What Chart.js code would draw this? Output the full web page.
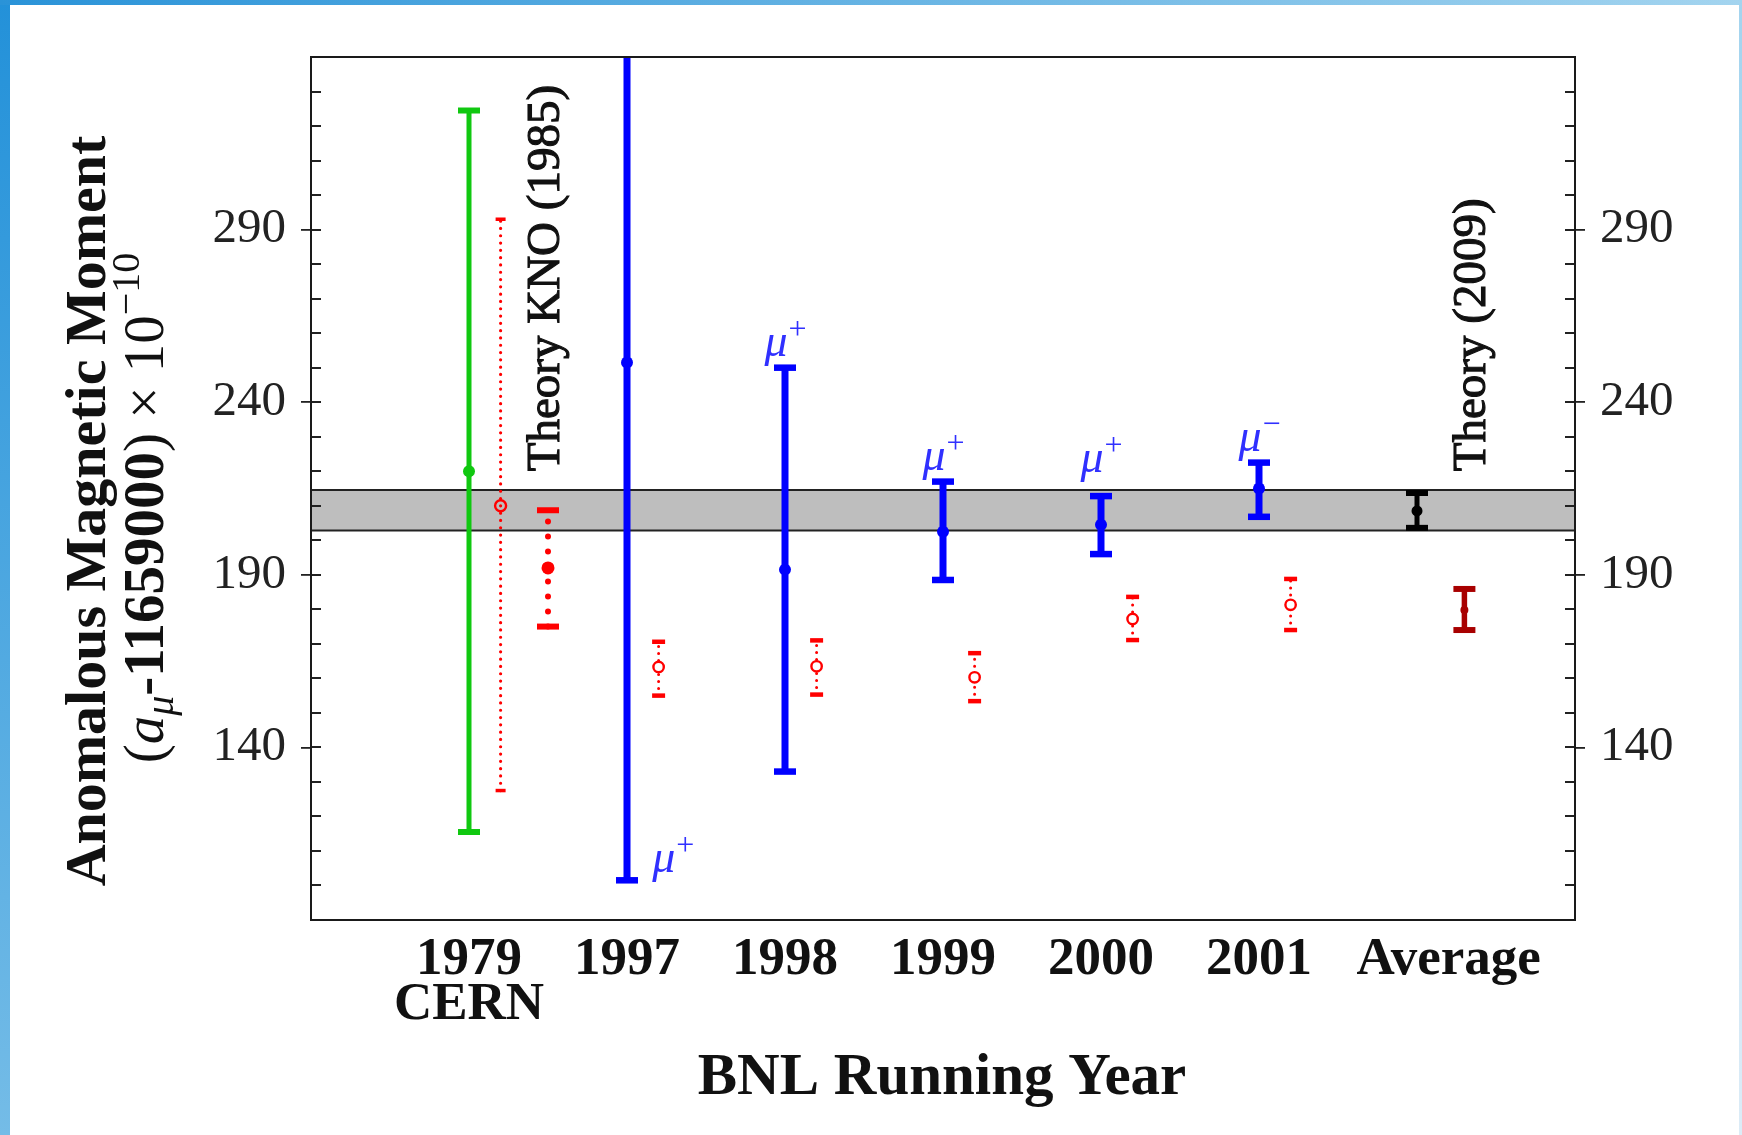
<!DOCTYPE html>
<html><head><meta charset="utf-8">
<script src="https://cdn.jsdelivr.net/npm/chart.js@4.4.0/dist/chart.umd.min.js"></script>
<style>
html,body{margin:0;padding:0;background:#fff;overflow:hidden;}
#wrap{position:relative;width:1742px;height:1135px;background:#fff;}
canvas{position:absolute;left:0;top:0;}
.fr{position:absolute;z-index:2;}
</style></head><body>
<div id="wrap">
<canvas id="c" width="1742" height="1135"></canvas>
<div class="fr" style="left:0;top:0;width:10px;height:1135px;background:linear-gradient(#2391d9,#74bce7)"></div>
<div class="fr" style="left:0;top:0;width:1742px;height:5px;background:linear-gradient(to right,#2a93d8,#a3d4ef)"></div>
<div class="fr" style="left:1739px;top:0;width:3px;height:1135px;background:linear-gradient(#a3d4ef,#dcecf7)"></div>
</div>
<script>
// ---------------- data (values in units of 1e-10, offset 11659000) ----------------
const categoryLabels = [['1979', 'CERN'], '1997', '1998', '1999', '2000', '2001', 'Average'];
const yTickValues = [140, 190, 240, 290];

// [low, value, high]
const cern1979 = [115.5, 220, 324.5];
const bnlLow   = [101.5, 133, 188.5, 196, 206.8];
const bnlValue = [251.5, 191.5, 202.5, 204.5, 215];
const bnlHigh  = [401.5, 250, 217, 212.8, 222.5];
const bnlCharge = ['+', '+', '+', '+', '\u2212'];
const worldAverage = [203.6, 208.5, 213.7];
const averageBand = [202.8, 214.6];

const theoryKNO1985 = [127.5, 210, 293];
const theoryKNO1985b = [175, 192, 208.7];
const theoryLow   = [155, 155.3, 153.4, 171.1, 174];
const theoryValue = [163.3, 163.5, 160.3, 177.2, 181.3];
const theoryHigh  = [170.6, 171, 167.3, 183.6, 188.8];
const theory2009 = [174, 179.8, 185.9];

// ---------------- layout constants ----------------
const OFF_THEORY = 0.2, OFF_KNO_B = 0.5, OFF_T2009 = 0.3, OFF_AVG_LABEL = 0.2;
const muLabelPos = [[1.29, 104], [2, 253.5], [3, 220.4], [4, 219.8], [5, 226]];
const theoryTextPos = [[0.49, 220, 'Theory KNO (1985)'], [6.35, 220, 'Theory (2009)']];
const SERIF = "'Liberation Serif', 'Times New Roman', serif";

const datasets = [];
// band (drawn behind)
datasets.push({data: [{x: -1, y: averageBand[0]}, {x: 7, y: averageBand[0]}], borderColor: '#222', borderWidth: 2,
  pointRadius: 0, order: 100, fill: false});
datasets.push({data: [{x: -1, y: averageBand[1]}, {x: 7, y: averageBand[1]}], borderColor: '#222', borderWidth: 2,
  pointRadius: 0, order: 100, fill: '-1', backgroundColor: '#bebebe'});

function errBar(x, trip, s) {
  datasets.push({
    data: [{x, y: trip[0]}, {x, y: trip[2]}],
    borderColor: s.color, borderWidth: s.lw, borderDash: s.dash || [], borderCapStyle: s.capStyle || 'butt',
    pointStyle: 'line', pointRadius: s.capW / 2, pointBorderWidth: s.capT,
    pointBorderColor: s.color, pointBackgroundColor: s.color, order: 1, fill: false
  });
  datasets.push({
    data: [{x, y: trip[1]}], showLine: false, pointStyle: 'circle', pointRadius: s.dotR,
    pointBackgroundColor: s.dotFill || s.color, pointBorderColor: s.color, pointBorderWidth: s.dotBW || 0, order: 0
  });
  if (s.innerDot) {
    datasets.push({data: [{x, y: trip[1]}], showLine: false, pointStyle: 'circle', pointRadius: s.innerDot,
      pointBackgroundColor: s.color, pointBorderWidth: 0, order: 0});
  }
}

errBar(0, cern1979, {color: '#10c810', lw: 5, capW: 22, capT: 6, dotR: 6});
errBar(OFF_THEORY, theoryKNO1985, {color: '#ff0000', lw: 3.2, dash: [0, 7.3], capStyle: 'round', capW: 10, capT: 3.5,
  dotR: 5.5, dotFill: 'rgba(0,0,0,0)', dotBW: 2.4});
errBar(OFF_KNO_B, theoryKNO1985b, {color: '#ff0000', lw: 6, dash: [0, 15], capStyle: 'round', capW: 22, capT: 6, dotR: 6.5});
for (let i = 0; i < bnlValue.length; i++) {
  errBar(i + 1, [bnlLow[i], bnlValue[i], bnlHigh[i]], {color: '#0000ff', lw: 7, capW: 22, capT: 6.5, dotR: 6});
  errBar(i + 1 + OFF_THEORY, [theoryLow[i], theoryValue[i], theoryHigh[i]],
    {color: '#ff0000', lw: 3, dash: [0, 7], capStyle: 'round', capW: 13, capT: 4.5, dotR: 5.2, dotFill: '#fff', dotBW: 2.4, innerDot: 2});
}
errBar(6, worldAverage, {color: '#000000', lw: 5, capW: 22, capT: 6, dotR: 5.5});
errBar(6 + OFF_T2009, theory2009, {color: '#a80000', lw: 5.5, capW: 22, capT: 6, dotR: 4});

const deco = {
  id: 'deco',
  afterDatasetsDraw(chart) {
    const {ctx, chartArea: a, scales} = chart;
    const ys = scales.y, xs = scales.x;
    ctx.save();
    // inward tick marks
    ctx.strokeStyle = '#222'; ctx.lineWidth = 1.8;
    for (let v = Math.ceil(ys.min / 10) * 10; v < ys.max; v += 10) {
      if (v <= ys.min) continue;
      const p = Math.round(ys.getPixelForValue(v));
      ctx.beginPath();
      ctx.moveTo(a.left, p); ctx.lineTo(a.left + 10, p);
      ctx.moveTo(a.right, p); ctx.lineTo(a.right - 10, p);
      ctx.stroke();
    }
    // frame
    ctx.lineWidth = 2; ctx.strokeStyle = '#1a1a1a';
    ctx.strokeRect(a.left, a.top, a.right - a.left, a.bottom - a.top);

    // mu labels
    ctx.fillStyle = '#3030ff';
    ctx.textBaseline = 'alphabetic';
    muLabelPos.forEach((p, i) => {
      const px = xs.getPixelForValue(p[0]), py = ys.getPixelForValue(p[1]);
      ctx.font = 'italic 46px ' + SERIF;
      const w1 = ctx.measureText('\u03bc').width;
      ctx.font = '32px ' + SERIF;
      const w2 = ctx.measureText(bnlCharge[i]).width;
      const x0 = px - (w1 + w2) / 2;
      ctx.font = 'italic 46px ' + SERIF;
      ctx.textAlign = 'left';
      ctx.fillText('\u03bc', x0, py);
      ctx.font = '32px ' + SERIF;
      ctx.fillText(bnlCharge[i], x0 + w1 + 1, py - 17);
    });

    // rotated theory labels
    ctx.fillStyle = '#111';
    ctx.strokeStyle = '#111';
    ctx.lineWidth = 1.1;
    ctx.font = '47px ' + SERIF;
    theoryTextPos.forEach(t => {
      const px = xs.getPixelForValue(t[0]), py = ys.getPixelForValue(t[1]);
      ctx.save();
      ctx.translate(px, py); ctx.rotate(-Math.PI / 2);
      ctx.textAlign = 'left'; ctx.textBaseline = 'middle';
      ctx.fillText(t[2], 0, 0);
      ctx.strokeText(t[2], 0, 0);
      ctx.restore();
    });
    ctx.restore();
  },
  afterDraw(chart) {
    const {ctx, chartArea: a} = chart;
    ctx.save();
    ctx.fillStyle = '#111';
    // x title
    ctx.font = 'bold 59px ' + SERIF;
    ctx.textAlign = 'center'; ctx.textBaseline = 'alphabetic';
    ctx.fillText('BNL Running Year', (a.left + a.right) / 2 - 1, 1094);
    // y title line 1
    ctx.save();
    ctx.translate(105, 511); ctx.rotate(-Math.PI / 2);
    ctx.font = 'bold 58px ' + SERIF;
    ctx.fillText('Anomalous Magnetic Moment', 0, 0);
    ctx.restore();
    // y title line 2 (mixed)
    const segs = [
      ['(', '57px ' + SERIF, 0],
      ['a', 'italic 57px ' + SERIF, 0],
      ['\u03bc', 'italic 40px ' + SERIF, 10],
      ['-11659000', 'bold 57px ' + SERIF, 0],
      [')', '57px ' + SERIF, 0],
      [' \u00d7 ', '57px ' + SERIF, 0],
      ['10', '57px ' + SERIF, 0],
      ['\u221210', '40px ' + SERIF, -24]
    ];
    let total = 0;
    segs.forEach(s => { ctx.font = s[1]; s.w = ctx.measureText(s[0]).width; total += s.w; });
    ctx.translate(163, 508); ctx.rotate(-Math.PI / 2);
    ctx.textAlign = 'left';
    let cx = -total / 2;
    segs.forEach(s => { ctx.font = s[1]; ctx.fillText(s[0], cx, s[2]); cx += s.w; });
    ctx.restore();
  }
};

const yAxisCommon = {
  type: 'linear', min: 90, max: 340,
  afterBuildTicks: s => { s.ticks = yTickValues.map(v => ({value: v})); },
  grid: {display: true, drawOnChartArea: false, drawTicks: true, tickLength: 10, color: '#222', lineWidth: 1.8},
  border: {display: false},
  ticks: {font: {family: SERIF, size: 49}, color: '#222', padding: 15}
};

new Chart(document.getElementById('c'), {
  type: 'line',
  data: {datasets},
  options: {
    responsive: false, animation: false, events: [],
    layout: {padding: {top: 57, left: 0, right: 0, bottom: 0}},
    plugins: {legend: {display: false}, tooltip: {enabled: false}},
    elements: {line: {tension: 0}},
    scales: {
      x: {
        type: 'linear', min: -1, max: 7, position: 'bottom',
        afterBuildTicks: s => {
          s.ticks = categoryLabels.map((l, i) => ({value: i + (i === categoryLabels.length - 1 ? OFF_AVG_LABEL : 0)}));
        },
        afterFit: s => { s.height = 215; },
        grid: {display: false, drawTicks: false},
        border: {display: false},
        ticks: {autoSkip: false, maxRotation: 0, padding: 18, color: '#111',
          font: {family: SERIF, size: 53, weight: 'bold', lineHeight: 0.85},
          callback: (v, i) => categoryLabels[i]}
      },
      y: Object.assign({}, yAxisCommon, {position: 'left', afterFit: s => { s.width = 311; }}),
      y2: Object.assign({}, yAxisCommon, {position: 'right', afterFit: s => { s.width = 167; }})
    }
  },
  plugins: [deco]
});
</script>
</body></html>
